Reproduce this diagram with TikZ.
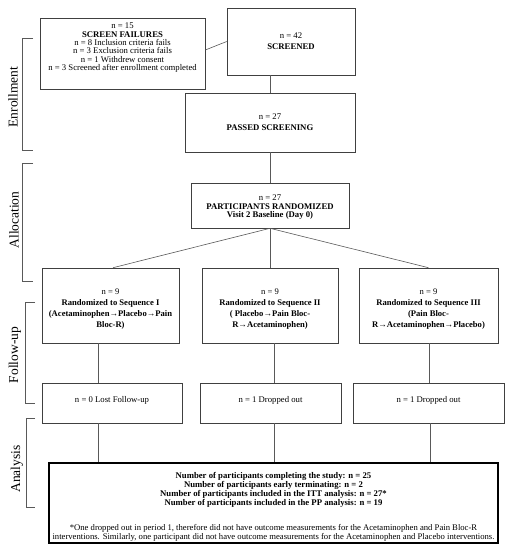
\documentclass[tikz,border=0pt]{standalone}
\usepackage{fontspec}
\setmainfont{Liberation Serif}
\begin{document}
\begin{tikzpicture}[x=1pt,y=-1pt,
  box/.style={draw=black!75, line width=0.6pt, rectangle, inner sep=1pt, align=center,
    font=\fontsize{8.7}{8.3}\selectfont},
  seqbox/.style={box, font=\fontsize{8.6}{11}\selectfont},
  finalbox/.style={draw=black, line width=1.1pt, rectangle, inner sep=1pt, align=center,
    font=\fontsize{8.7}{9}\selectfont},
  conn/.style={draw=black!65, line width=0.6pt},
  brk/.style={draw=black!65, line width=0.6pt},
  phase/.style={rotate=90, font=\fontsize{13.5}{14}\selectfont, inner sep=0pt}]
\useasboundingbox (0,0) rectangle (513,550);

% boxes
\node[box, minimum width=165, minimum height=71] (sf) at (122.5,53.5)
  {n = 15\\\textbf{SCREEN FAILURES}\\n = 8 Inclusion criteria fails\\n = 3 Exclusion criteria fails\\n = 1 Withdrew consent\\n = 3 Screened after enrollment completed\\[5pt]\mbox{}};
\node[box, minimum width=128, minimum height=67, font=\fontsize{8.7}{11}\selectfont] (scr) at (291,41.5)
  {n = 42\\\textbf{SCREENED}};
\node[box, minimum width=170, minimum height=59, font=\fontsize{8.7}{11}\selectfont] (pas) at (270,122.5)
  {n = 27\\\textbf{PASSED SCREENING}};
\node[box, minimum width=158, minimum height=45, font=\fontsize{8.7}{8.8}\selectfont] (rnd) at (270,205.5)
  {\rule{0pt}{9pt}n = 27\\\textbf{PARTICIPANTS RANDOMIZED}\\\textbf{Visit 2 Baseline (Day 0)}};

\node[seqbox, minimum width=137, minimum height=75] (s1) at (110.5,305.5)
  {\rule{0pt}{12pt}n = 9\\\textbf{Randomized to Sequence I}\\\textbf{(Acetaminophen→Placebo→Pain}\\\textbf{Bloc-R)}};
\node[seqbox, minimum width=136, minimum height=75] (s2) at (270,305.5)
  {\rule{0pt}{12pt}n = 9\\\textbf{Randomized to Sequence II}\\\textbf{( Placebo→Pain Bloc-}\\\textbf{R→Acetaminophen)}};
\node[seqbox, minimum width=139, minimum height=75] (s3) at (428.5,305.5)
  {\rule{0pt}{12pt}n = 9\\\textbf{Randomized to Sequence III}\\\textbf{(Pain Bloc-}\\\textbf{R→Acetaminophen→Placebo)}};

\node[box, minimum width=140, minimum height=40, text depth=8pt] (d1) at (112,403) {n = 0 Lost Follow-up};
\node[box, minimum width=141, minimum height=40, text depth=8pt] (d2) at (270.5,403) {n = 1 Dropped out};
\node[box, minimum width=151, minimum height=40, text depth=8pt] (d3) at (428.5,403) {n = 1 Dropped out};

\node[finalbox, minimum width=449, minimum height=80] (fin) at (273.5,503)
  {\rule{0pt}{14pt}\textbf{Number of participants completing the study: n = 25}\\
   \textbf{Number of participants early terminating: n = 2}\\
   \textbf{Number of participants included in the ITT analysis: n = 27*}\\
   \textbf{Number of participants included in the PP analysis: n = 19}\\[16pt]
   {\fontsize{8.65}{10}\selectfont *One dropped out in period 1, therefore did not have outcome measurements for the Acetaminophen and Pain Bloc-R}\\
   {\fontsize{8.65}{10}\selectfont interventions. Similarly, one participant did not have outcome measurements for the Acetaminophen and Placebo interventions.}};

% connectors
\draw[conn] ([yshift=3.5]sf.east) -- (scr.west);
\draw[conn] (pas.north |- scr.south) -- (pas.north);
\draw[conn] (pas.south) -- (rnd.north);
\draw[conn] (rnd.south) -- ([xshift=2.5]s1.north);
\draw[conn] (rnd.south) -- (s2.north);
\draw[conn] (rnd.south) -- (s3.north);
\draw[conn] ([xshift=-12.5]s1.south) -- ([xshift=-12.5]s1.south |- d1.north);
\draw[conn] ([xshift=4]s2.south) -- ([xshift=4]s2.south |- d2.north);
\draw[conn] ([xshift=0.5]s3.south) -- ([xshift=0.5]s3.south |- d3.north);
\draw[conn] ([xshift=-14]d1.south) -- ([xshift=-14]d1.south |- fin.north);
\draw[conn] ([xshift=3.5]d2.south) -- ([xshift=3.5]d2.south |- fin.north);
\draw[conn] ([xshift=1.5]d3.south) -- ([xshift=1.5]d3.south |- fin.north);

% phase brackets
\draw[brk] (33,38) -- (22,38) -- (22,150) -- (33,150);
\node[phase] (enr) at (13,97) {Enrollment};
\draw[brk] (33,163) -- (22,163) -- (22,281) -- (33,281);
\node[phase] (all) at (14,220) {Allocation};
\draw[brk] (35,302) -- (25,302) -- (25,403) -- (35,403);
\node[phase] (fol) at (15,355) {Follow-up};
\draw[brk] (35,418) -- (26,418) -- (26,507) -- (35,507);
\node[phase] (ana) at (17,469) {Analysis};
\end{tikzpicture}
\end{document}
